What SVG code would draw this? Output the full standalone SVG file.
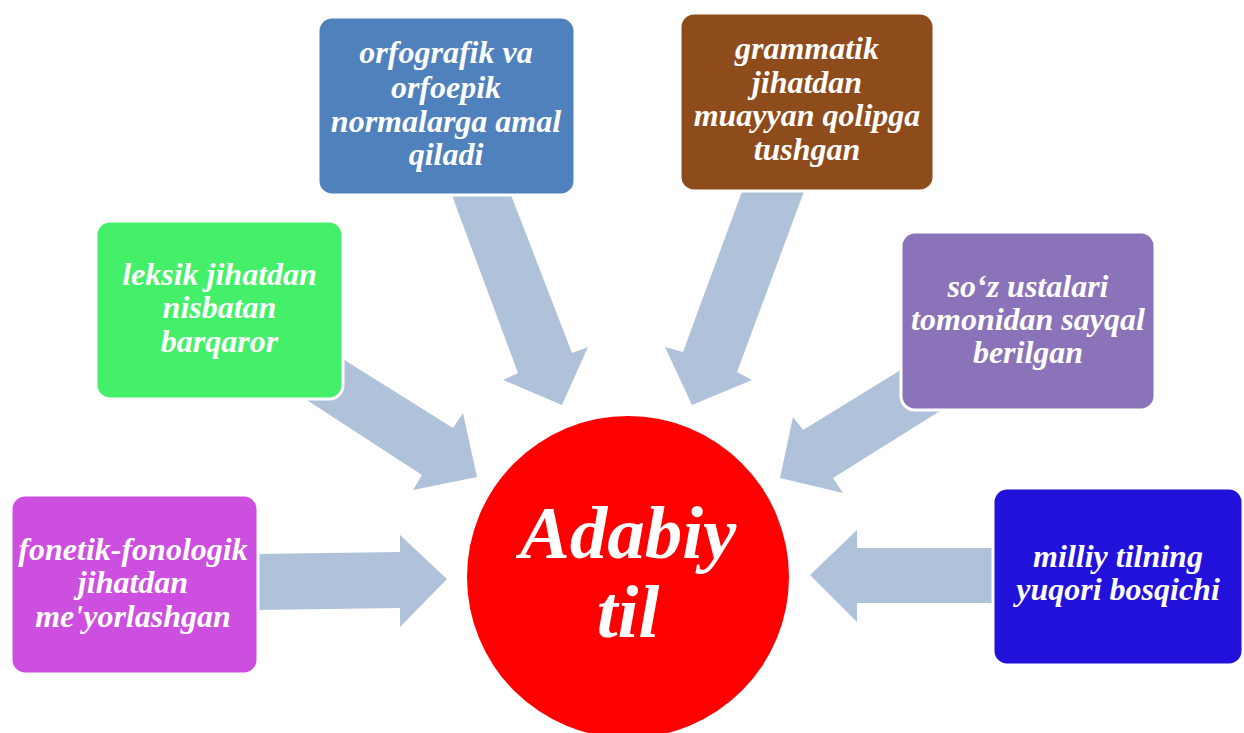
<svg xmlns="http://www.w3.org/2000/svg" width="1244" height="733" viewBox="0 0 1244 733">
<style>
.box{stroke:#ffffff;stroke-width:3}
.arr{fill:#B0C1DA;stroke:none}
.t{font-family:"Liberation Serif","Times New Roman",serif;font-weight:bold;font-style:italic;font-size:32px;fill:#ffffff;text-anchor:middle}
.big{font-size:75px}
</style>
<rect width="1244" height="733" fill="#ffffff"/>
<g id="connectors">
<polygon class="arr" points="255,554 400,552 400,535 447,579 400,627 400,608 255,610"/>
<polygon class="arr" points="330,351 453,428 463,413 477,477 413,490 422,475 296,393"/>
<polygon class="arr" points="447,182 506,182 572,353 588,347 562,405 503,380 518,373"/>
<polygon class="arr" points="747,178 809,178 737,372 752,380 692,405 665,347 683,352"/>
<polygon class="arr" points="912,363 803,430 793,417 780,478 843,493 833,478 948,406"/>
<polygon class="arr" points="1000,548 857,548 857,530 810,575 857,622 857,603 1000,603"/>
</g>
<g id="node-center">
<circle cx="628" cy="577" r="161" fill="#FF0000"/>
<text class="t big" x="628" y="558">Adabiy</text>
<text class="t big" x="628" y="637">til</text>
</g>
<g id="node-fonetik">
<rect class="box" x="11" y="495" width="247" height="179" rx="14" fill="#CD4FE0"/>
<text class="t" x="133" y="560">fonetik-fonologik</text>
<text class="t" x="133" y="593">jihatdan</text>
<text class="t" x="133" y="627">me'yorlashgan</text>
</g>
<g id="node-leksik">
<rect class="box" x="96" y="221" width="247" height="178" rx="14" fill="#44EF69"/>
<text class="t" x="219.5" y="285">leksik jihatdan</text>
<text class="t" x="219.5" y="318">nisbatan</text>
<text class="t" x="219.5" y="352">barqaror</text>
</g>
<g id="node-orfografik">
<rect class="box" x="318" y="17" width="257" height="178" rx="14" fill="#4F81BD"/>
<text class="t" x="446" y="63">orfografik va</text>
<text class="t" x="446" y="98">orfoepik</text>
<text class="t" x="446" y="132">normalarga amal</text>
<text class="t" x="446" y="165">qiladi</text>
</g>
<g id="node-grammatik">
<rect class="box" x="680" y="13" width="254" height="178" rx="14" fill="#8E4B1B"/>
<text class="t" x="807" y="59">grammatik</text>
<text class="t" x="807" y="93">jihatdan</text>
<text class="t" x="807" y="126">muayyan qolipga</text>
<text class="t" x="807" y="160">tushgan</text>
</g>
<g id="node-soz">
<rect class="box" x="901" y="232" width="254" height="178" rx="14" fill="#8A73B9"/>
<text class="t" x="1028" y="297">so‘z ustalari</text>
<text class="t" x="1028" y="330">tomonidan sayqal</text>
<text class="t" x="1028" y="363">berilgan</text>
</g>
<g id="node-milliy">
<rect class="box" x="993" y="488" width="250" height="177" rx="14" fill="#2211DA"/>
<text class="t" x="1118" y="567">milliy tilning</text>
<text class="t" x="1118" y="600">yuqori bosqichi</text>
</g>
</svg>
